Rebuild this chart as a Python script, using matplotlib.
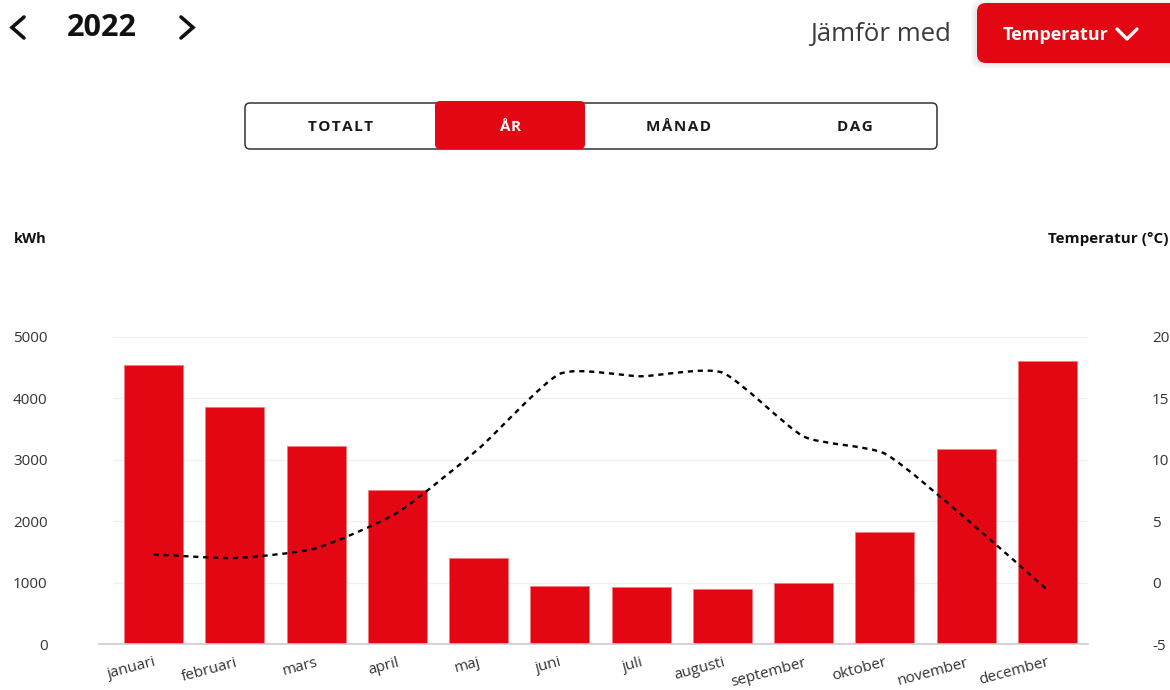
import matplotlib
matplotlib.use("Agg")
import matplotlib.pyplot as plt
from matplotlib.patches import FancyBboxPatch
from matplotlib.path import Path
from matplotlib.patches import PathPatch

plt.rcParams['font.family'] = ['Open Sans', 'DejaVu Sans']

months = ["januari", "februari", "mars", "april", "maj", "juni", "juli",
          "augusti", "september", "oktober", "november", "december"]
kwh = [4540, 3860, 3225, 2510, 1400, 945, 930, 896, 995, 1825, 3175, 4610]
temp = [2.3, 2.0, 2.8, 5.7, 10.9, 17.0, 16.8, 17.1, 11.9, 10.5, 5.2, -0.6]
kwh_ticks = [0, 1000, 2000, 3000, 4000, 5000]
temp_ticks = [-5, 0, 5, 10, 15, 20]
tabs = ["TOTALT", "ÅR", "MÅNAD", "DAG"]
year_label = "2022"

RED = "#e30613"
W, H = 1170, 690
fig = plt.figure(figsize=(W / 100, H / 100), dpi=100)

# ---- main chart axes ----
L, R, B, T = 113, 1088, 644, 337
ax = fig.add_axes([L / W, (H - B) / H, (R - L) / W, (B - T) / H])
x = list(range(len(months)))
ax.bar(x, kwh, width=0.727, color=RED, edgecolor="#f47a7a", linewidth=0.6, zorder=2)
ax.set_xlim(-0.5, len(months) - 0.5)
ax.set_ylim(0, 5000)
ax.set_yticks(kwh_ticks)
ax.set_yticklabels([str(v) for v in kwh_ticks], fontsize=11, color="#333333")
ax.tick_params(axis="y", length=0, pad=47)
ax.set_xticks(x)
ax.set_xticklabels(months, rotation=15, ha="right", rotation_mode="anchor",
                   fontsize=11, color="#333333")
ax.tick_params(axis="x", length=0, pad=8)
for s in ax.spines.values():
    s.set_visible(False)
for v in kwh_ticks[1:]:
    ax.axhline(v, color="#f0f0f0", linewidth=1, zorder=0)
ax.axhline(0, xmin=-0.014, xmax=1.0, color="#cccccc", linewidth=1.2, zorder=3, clip_on=False)

# ---- temperature axis ----
ax2 = ax.twinx()
ax2.set_ylim(-5, 20)
ax2.set_yticks(temp_ticks)
ax2.set_yticklabels([str(v) for v in temp_ticks], fontsize=11, color="#333333")
ax2.tick_params(axis="y", length=0, pad=46)
for s in ax2.spines.values():
    s.set_visible(False)

# lightly smoothed dashed temperature line (Bezier through the data points)
n = len(temp)
k = 10.0
verts = [(x[0], temp[0])]
codes = [Path.MOVETO]
for i in range(n - 1):
    p0 = (x[i - 1], temp[i - 1]) if i > 0 else (x[i], temp[i])
    p1 = (x[i], temp[i])
    p2 = (x[i + 1], temp[i + 1])
    p3 = (x[i + 2], temp[i + 2]) if i + 2 < n else p2
    c1 = (p1[0] + (p2[0] - p0[0]) / k, p1[1] + (p2[1] - p0[1]) / k)
    c2 = (p2[0] - (p3[0] - p1[0]) / k, p2[1] - (p3[1] - p1[1]) / k)
    verts += [c1, c2, p2]
    codes += [Path.CURVE4] * 3
ax2.add_patch(PathPatch(Path(verts, codes), facecolor="none", edgecolor="black",
                        linewidth=1.7, linestyle=(0, (2.2, 2.0)), zorder=4))

# ---- overlay for header / labels (pixel coords) ----
ov = fig.add_axes([0, 0, 1, 1], zorder=-1)
ov.set_xlim(0, W)
ov.set_ylim(H, 0)
ov.axis("off")
ov.patch.set_alpha(0)

# year navigation
ov.plot([24, 12, 24], [17, 27.5, 38], color="#111111", lw=2.6, solid_capstyle="round",
        solid_joinstyle="miter")
ov.plot([181, 193, 181], [17, 27.5, 38], color="#111111", lw=2.6, solid_capstyle="round",
        solid_joinstyle="miter")
ov.text(102, 28, year_label, fontsize=22, fontweight="bold", ha="center", va="center",
        color="#111111")

# compare with
ov.text(951, 35, "Jämför med", fontsize=18.5, ha="right", va="center", color="#3a3a3a")
for j in range(3):
    sh = FancyBboxPatch((977 - 2 - 2 * j, 3 + 1 - 2 * j), 210 + 4 * j, 60 + 4 * j,
                        boxstyle="round,pad=0,rounding_size=10", facecolor="black",
                        edgecolor="none", alpha=0.03)
    ov.add_patch(sh)
btn = FancyBboxPatch((977, 3), 210, 60, boxstyle="round,pad=0,rounding_size=9",
                     facecolor=RED, edgecolor="none")
ov.add_patch(btn)
ov.text(1056, 35, "Temperatur", fontsize=13, fontweight="bold", ha="center", va="center",
        color="white")
ov.plot([1117, 1127, 1137], [29, 39, 29], color="white", lw=2.4, solid_capstyle="round")

# tab bar
outer = FancyBboxPatch((245, 103), 692, 46, boxstyle="round,pad=0,rounding_size=5",
                       facecolor="white", edgecolor="#333333", linewidth=1.1)
ov.add_patch(outer)
act = FancyBboxPatch((435, 101), 150, 48, boxstyle="round,pad=0,rounding_size=5",
                     facecolor=RED, edgecolor="none")
ov.add_patch(act)
tab_x = [340, 510, 678, 855]
for t, tx in zip(tabs, tab_x):
    spaced = "\u200a".join(t)
    ov.text(tx, 127, spaced, fontsize=11, fontweight="bold", ha="center", va="center",
            color="white" if t == "ÅR" else "#1a1a1a",
            family=["Open Sans", "DejaVu Sans"])

# axis titles
ov.text(14, 239, "kWh", fontsize=10.5, fontweight="bold", ha="left", va="center",
        color="#111111")
ov.text(1168, 239, "Temperatur (°C)", fontsize=11, fontweight="bold", ha="right",
        va="center", color="#111111")

fig.savefig("out.png", dpi=100, facecolor="white")
